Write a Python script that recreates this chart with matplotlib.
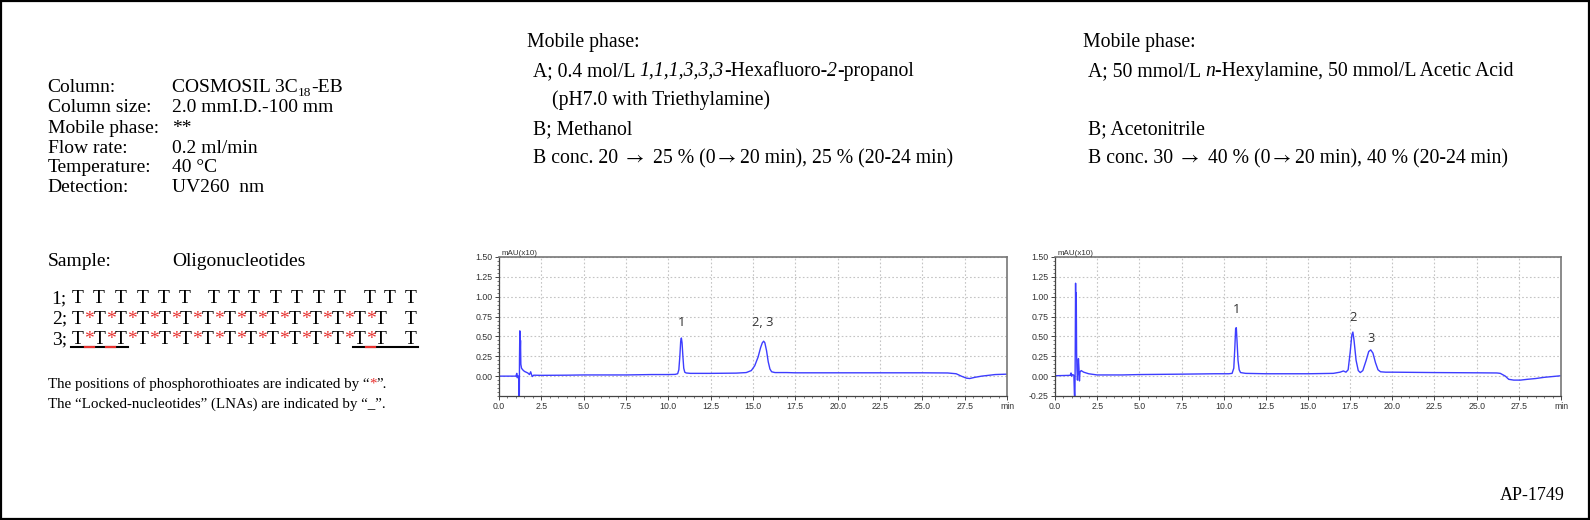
import numpy as np
import matplotlib
matplotlib.use("Agg")
import matplotlib.pyplot as plt
from matplotlib.patches import Rectangle
from matplotlib.lines import Line2D

# ---------------- data ----------------
cond_labels = ["Column:", "Column size:", "Mobile phase:", "Flow rate:", "Temperature:", "Detection:"]
cond_values = ["2.0 mmI.D.-100 mm", "**", "0.2 ml/min", "40 °C", "UV260  nm"]  # after Column
sample_label = "Sample:"
sample_value = "Oligonucleotides"
seq_labels = ["1;", "2;", "3;"]
n_bases = 16
pt_row2 = [1] * 14 + [0]          # phosphorothioate linkages (15 linkages)
pt_row3 = [1] * 14 + [0]
lna_row3 = [1, 1, 1] + [0] * 10 + [1, 1, 1]

# chromatogram A (HFIP / methanol)
t_a = [0.0, 0.9, 1.0, 1.05, 1.08, 1.12, 1.16, 1.18, 1.2, 1.21, 1.23, 1.25, 1.27, 1.29, 1.33, 1.4,
       1.5, 1.6, 1.7, 1.8, 1.87, 1.92, 1.97, 2.05, 2.5, 4.0, 5.0, 7.5, 9.0, 10.0, 10.4, 10.55,
       10.62, 10.68, 10.73, 10.77, 10.81, 10.86, 10.91, 10.97, 11.05, 11.3, 12.5, 14.0, 14.6,
       14.9, 15.1, 15.3, 15.45, 15.55, 15.63, 15.7, 15.8, 15.9, 16.0, 16.1, 16.3, 17.0, 17.5,
       20.0, 25.0, 26.5, 27.0, 27.3, 27.6, 27.8, 28.1, 28.5, 29.3, 30.0]
y_a = [0.0, 0.0, 0.0, 0.035, -0.02, 0.0, 0.0, -0.3, -0.3, 0.2, 0.57, 0.3, 0.45, 0.15, 0.1, 0.08,
       0.06, 0.05, 0.04, 0.02, 0.055, 0.02, -0.005, 0.012, 0.01, 0.012, 0.015, 0.015, 0.02, 0.02,
       0.022, 0.03, 0.08, 0.25, 0.44, 0.48, 0.42, 0.25, 0.1, 0.05, 0.04, 0.035, 0.035, 0.038,
       0.045, 0.07, 0.13, 0.24, 0.36, 0.42, 0.44, 0.42, 0.32, 0.18, 0.09, 0.055, 0.045, 0.045,
       0.042, 0.042, 0.042, 0.04, 0.03, 0.0, -0.025, -0.03, -0.015, 0.0, 0.02, 0.025]
peaks_a = [(10.75, 0.68, "1"), (15.6, 0.67, "2, 3")]

# chromatogram B (hexylamine / acetonitrile)
t_b = [0.0, 0.9, 0.95, 0.98, 1.05, 1.12, 1.16, 1.18, 1.2, 1.22, 1.24, 1.26, 1.28, 1.3, 1.33,
       1.36, 1.39, 1.42, 1.45, 1.48, 1.55, 1.7, 2.0, 2.5, 4.0, 5.0, 7.5, 9.5, 10.3, 10.5, 10.6,
       10.66, 10.71, 10.75, 10.79, 10.85, 10.92, 11.0, 11.3, 12.5, 15.0, 16.5, 16.9, 17.1, 17.25,
       17.38, 17.5, 17.6, 17.66, 17.73, 17.85, 17.98, 18.1, 18.25, 18.45, 18.6, 18.72, 18.85,
       19.0, 19.15, 19.3, 19.6, 20.0, 22.5, 25.0, 26.2, 26.4, 26.7, 26.9, 27.2, 27.6, 28.0,
       28.5, 29.0, 29.5, 30.0]
y_b = [0.005, 0.01, 0.04, 0.0, 0.02, 0.01, -0.3, -0.3, 0.3, 1.17, 0.6, 1.05, 0.3, 0.1, -0.05,
       0.05, 0.22, 0.1, -0.06, 0.05, 0.07, 0.05, 0.03, 0.015, 0.015, 0.02, 0.025, 0.03, 0.03,
       0.035, 0.1, 0.35, 0.6, 0.61, 0.45, 0.2, 0.08, 0.045, 0.035, 0.03, 0.03, 0.035, 0.05,
       0.065, 0.05, 0.08, 0.3, 0.52, 0.555, 0.45, 0.2, 0.07, 0.045, 0.07, 0.2, 0.31, 0.33, 0.29,
       0.17, 0.08, 0.055, 0.05, 0.05, 0.045, 0.042, 0.04, 0.035, 0.0, -0.04, -0.05, -0.05,
       -0.04, -0.03, -0.015, -0.005, 0.005]
peaks_b = [(10.75, 0.84, "1"), (17.65, 0.74, "2"), (18.72, 0.48, "3")]

x_ticks = [0.0, 2.5, 5.0, 7.5, 10.0, 12.5, 15.0, 17.5, 20.0, 22.5, 25.0, 27.5, 30.0]
x_tick_labels = ["0.0", "2.5", "5.0", "7.5", "10.0", "12.5", "15.0", "17.5", "20.0", "22.5",
                 "25.0", "27.5", "min"]
y_ticks_a = [0.0, 0.25, 0.5, 0.75, 1.0, 1.25, 1.5]
y_ticks_b = [-0.25, 0.0, 0.25, 0.5, 0.75, 1.0, 1.25, 1.5]
y_unit = "mAU(x10)"

# ---------------- figure ----------------
W, H = 1590, 520
fig = plt.figure(figsize=(W / 100, H / 100), dpi=100)
fig.patch.set_facecolor("white")
R = fig.canvas.get_renderer()

SERIF = ["Liberation Serif", "DejaVu Serif"]
SMALL = ["Liberation Sans Narrow", "Liberation Sans", "DejaVu Sans"]
ARROW = "\u2192"


def fx(px):
    return px / W


def fy(py):
    return 1 - py / H


def text_width(s, **kw):
    t1 = fig.text(0, 0, s + "|", **kw)
    w1 = t1.get_window_extent(R).width
    t1.remove()
    t2 = fig.text(0, 0, "|", **kw)
    w2 = t2.get_window_extent(R).width
    t2.remove()
    return w1 - w2


def runs(x, y, parts, size=14):
    for p in parts:
        if isinstance(p, str):
            p = {"s": p}
        s = p["s"]
        kw = dict(fontsize=p.get("size", size), family=SERIF,
                  style=p.get("style", "normal"), color=p.get("color", "black"))
        if "math" in p:
            kw["math_fontfamily"] = p["math"]
        fig.text(fx(x), fy(y + p.get("dy", 0)), s, va="baseline", ha="left", **kw)
        x += text_width(s, **kw)
    return x


def with_arrows(s):
    parts = []
    for k, piece in enumerate(s.split(ARROW)):
        if k:
            parts.append({"s": r"$\rightarrow$", "math": "stix"})
        if piece:
            parts.append(piece)
    return parts


# outer frame
fig.add_artist(Rectangle((fx(0.8), fy(H - 0.8)), fx(W - 1.6), 1 - 2 * 0.8 / H, transform=fig.transFigure,
                         fill=False, edgecolor="black", linewidth=1.6))

# left conditions block
LX, VX = 47.7, 172.5
base_y = [92.5, 112, 133, 152.5, 172, 191.5]
for lab, yy in zip(cond_labels, base_y):
    runs(LX, yy, [lab])
runs(VX, base_y[0], ["COSMOSIL 3C", {"s": "18", "size": 9.5, "dy": 4}, "-EB"])
for val, yy in zip(cond_values, base_y[1:]):
    runs(VX, yy, [val])
runs(LX, 266, [sample_label])
runs(VX, 266, [sample_value])

# sequences
row_y = [303, 323.5, 344]
pitch = 21.67
first_c = 77.7
last_c = 411.0
row1_c = [77.7, 99, 120.7, 142.7, 163.3, 184.3, 213.3, 233.3, 254, 275.3, 296.7, 318.3, 340,
          370, 389.3, 411]
row23_c = [first_c + i * pitch for i in range(n_bases - 1)] + [last_c]
for lab, yy in zip(seq_labels, row_y):
    runs(51.7, yy, [lab])
kwT = dict(fontsize=14, family=SERIF, va="baseline", ha="center")
for c in row1_c:
    fig.text(fx(c), fy(row_y[0]), "T", **kwT)
for yy, pts in [(row_y[1], pt_row2), (row_y[2], pt_row3)]:
    for c in row23_c:
        fig.text(fx(c), fy(yy), "T", **kwT)
    for i, f in enumerate(pts):
        if f:
            xm = (row23_c[i] + row23_c[i + 1]) / 2 + 0.5
            fig.text(fx(xm), fy(yy), "*", color="#e8312f", **kwT)

# LNA underlines
uy = row_y[2] + 3.0
i = 0
while i < n_bases:
    if lna_row3[i]:
        j = i
        while j + 1 < n_bases and lna_row3[j + 1]:
            j += 1
        x0, x1 = row23_c[i] - 6.5, row23_c[j] + 6.5
        fig.add_artist(Line2D([fx(x0), fx(x1)], [fy(uy), fy(uy)], transform=fig.transFigure,
                              color="black", linewidth=1.5))
        for k in range(i, j):
            if pt_row3[k]:
                xm = (row23_c[k] + row23_c[k + 1]) / 2 + 0.5
                fig.add_artist(Line2D([fx(xm - 4.5), fx(xm + 4.5)], [fy(uy), fy(uy)],
                                      transform=fig.transFigure, color="#e8312f", linewidth=1.6))
        i = j + 1
    else:
        i += 1

runs(47.7, 388, ["The positions of phosphorothioates are indicated by \u201c",
                 {"s": "*", "color": "#e8312f"}, "\u201d."], size=10.8)
runs(47.7, 407.5, ["The \u201cLocked-nucleotides\u201d (LNAs) are indicated by \u201c_\u201d."], size=10.8)

# mobile phase blocks
MS = 14.2
my = [47.5, 76, 105.5, 134, 163]
runs(527, my[0], ["Mobile phase:"], size=MS)
runs(533, my[1], ["A; 0.4 mol/L ", {"s": "1,1,1,3,3,3", "style": "italic"}, "-Hexafluoro-",
                  {"s": "2", "style": "italic"}, "-propanol"], size=MS)
runs(552.5, my[2], ["(pH7.0 with Triethylamine)"], size=MS)
runs(533, my[3], ["B; Methanol"], size=MS)
runs(533, my[4], with_arrows("B conc. 20 \u2192 25 % (0\u219220 min), 25 % (20-24 min)"), size=MS)

runs(1083, my[0], ["Mobile phase:"], size=MS)
runs(1088, my[1], ["A; 50 mmol/L ", {"s": "n", "style": "italic"},
                   "-Hexylamine, 50 mmol/L Acetic Acid"], size=MS)
runs(1088, my[3], ["B; Acetonitrile"], size=MS)
runs(1088, my[4], with_arrows("B conc. 30 \u2192 40 % (0\u219220 min), 40 % (20-24 min)"), size=MS)

fig.text(fx(1565), fy(500), "AP-1749", fontsize=13, family=SERIF, ha="right", va="baseline")


# chromatograms
def chrom(x0, x1, t, y, yt, peaks):
    ax = fig.add_axes([fx(x0), fy(396), fx(x1 - x0), (396 - 257) / H])
    ax.plot(t, y, color="#3d3dff", linewidth=1.0, solid_joinstyle="round")
    ax.set_xlim(0, 30)
    ax.set_ylim(-0.25, 1.5)
    ax.set_xticks(x_ticks)
    ax.set_xticklabels(x_tick_labels)
    ax.set_xticks(np.arange(0, 30.01, 0.5), minor=True)
    ax.set_yticks(yt)
    ax.set_yticklabels([f"{v:.2f}" for v in yt])
    ax.set_yticks(np.arange(-0.25, 1.501, 0.05), minor=True)
    ax.grid(True, which="major", color="#c4c4c4", linestyle=(0, (1.5, 2)), linewidth=0.8)
    ax.set_axisbelow(True)
    for sp in ["left", "bottom"]:
        ax.spines[sp].set_color("#444444")
        ax.spines[sp].set_linewidth(0.9)
    for sp in ["top", "right"]:
        ax.spines[sp].set_color("#777777")
        ax.spines[sp].set_linewidth(1.2)
    ax.tick_params(which="major", length=3, width=0.7, color="#444444", labelsize=6.3,
                   labelcolor="#333333", pad=1.5)
    ax.tick_params(which="minor", length=1.6, width=0.5, color="#444444")
    for lab in ax.get_xticklabels() + ax.get_yticklabels():
        lab.set_family(SMALL)
    ax.text(0.004, 1.0, y_unit, transform=ax.transAxes, fontsize=5.8, family=SMALL,
            color="#333333", ha="left", va="bottom")
    for px, py, s in peaks:
        ax.text(px, py, s, fontsize=9.3, family=["Open Sans", "DejaVu Sans"], color="#333333",
                ha="center", va="center")
    return ax


chrom(499, 1007, t_a, y_a, y_ticks_a, peaks_a)
chrom(1055, 1561, t_b, y_b, y_ticks_b, peaks_b)

fig.savefig("out.png", dpi=100)
